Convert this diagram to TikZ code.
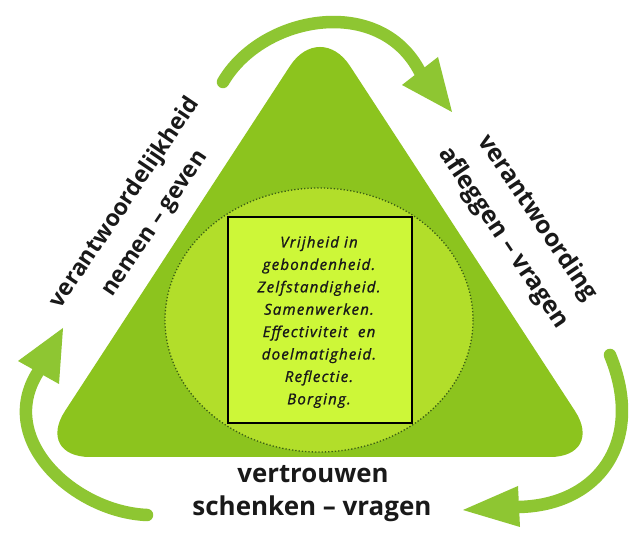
\documentclass[tikz,border=0pt]{standalone}
\usepackage{fontspec}
\setmainfont{Open Sans}
\newfontfamily\innerfont[LetterSpace=8.0, FakeBold=1.2]{Open Sans}
\usepackage{graphicx}
\usetikzlibrary{shapes.geometric}
\definecolor{tri}{RGB}{140,196,30}
\definecolor{ell}{RGB}{178,222,42}
\definecolor{boxc}{RGB}{205,247,56}
\definecolor{arw}{RGB}{142,198,50}
\definecolor{dotc}{RGB}{60,95,20}
\definecolor{ink}{RGB}{25,25,25}
\newcommand{\fitw}[2]{\resizebox{#1}{!}{#2}}
\begin{document}
\begin{tikzpicture}[x=1pt,y=-1pt,
  lbl/.style={font=\bfseries, inner sep=0pt, text=ink},
  shaft/.style={draw=arw, line width=12.5pt, line cap=round},
  headc/.style={fill=arw}]
\useasboundingbox (0,0) rectangle (630,534);
\fill[white] (0,0) rectangle (630,534);
% triangle
\fill[tri, rounded corners=55pt] (320,20) -- (605,457) -- (35,457) -- cycle;
% ellipse
\filldraw[fill=ell, draw=dotc, dotted, line width=1.3pt] (319,320) ellipse [x radius=154, y radius=132];
% box
\node[draw=black, fill=boxc, line width=1.3pt, minimum width=184pt, minimum height=206pt, inner sep=0pt] (box) at (320,320) {};
\node[align=center, inner sep=0pt, text=ink, font=\innerfont\itshape\fontsize{15}{22.4}\selectfont] (inner) at (319,322)
  {Vrijheid in\\gebondenheid.\\Zelfstandigheid.\\Samenwerken.\\Effectiviteit\ \ en\\doelmatigheid.\\Reflectie.\\Borging.};
% labels
\node[lbl, rotate=56] (l1) at (125,203) {\fitw{248pt}{verantwoordelijkheid}};
\node[lbl, rotate=56] (l2) at (157,225) {\fitw{170pt}{nemen -- geven}};
\node[lbl, rotate=-56] (r1) at (537,218) {\fitw{194pt}{verantwoording}};
\node[lbl, rotate=-56] (r2) at (503,238) {\fitw{213pt}{afleggen -- vragen}};
\node[lbl] (b1) at (313,474) {\fitw{151pt}{vertrouwen}};
\node[lbl] (b2) at (312,509) {\fitw{239pt}{schenken -- vragen}};
% top arrow
\coordinate (t0) at (223,82);
\coordinate (t1) at (420,72);
\coordinate (ttip) at (452,112);
\coordinate (tw1) at (438,57);
\coordinate (tw2) at (402,85);
\draw[shaft] (t0) .. controls (262,15) and (380,-6) .. (t1);
\fill[headc] (ttip) -- (tw1) -- (tw2) -- cycle;
% right arrow
\coordinate (r0) at (610,355);
\coordinate (rb) at (519,507);
\coordinate (rtip) at (463,510);
\coordinate (rw1) at (518,486);
\coordinate (rw2) at (520,527);
\draw[shaft] (r0) .. controls (645,440) and (600,505) .. (rb);
\fill[headc] (rtip) -- (rw1) -- (rw2) -- cycle;
% left arrow
\coordinate (q0) at (147,515);
\coordinate (qb) at (38,372);
\coordinate (qtip) at (63,328);
\coordinate (qw1) at (59,384);
\coordinate (qw2) at (18,361);
\draw[shaft] (q0) .. controls (75,512) and (-5,440) .. (qb);
\fill[headc] (qtip) -- (qw1) -- (qw2) -- cycle;
\end{tikzpicture}
\end{document}
